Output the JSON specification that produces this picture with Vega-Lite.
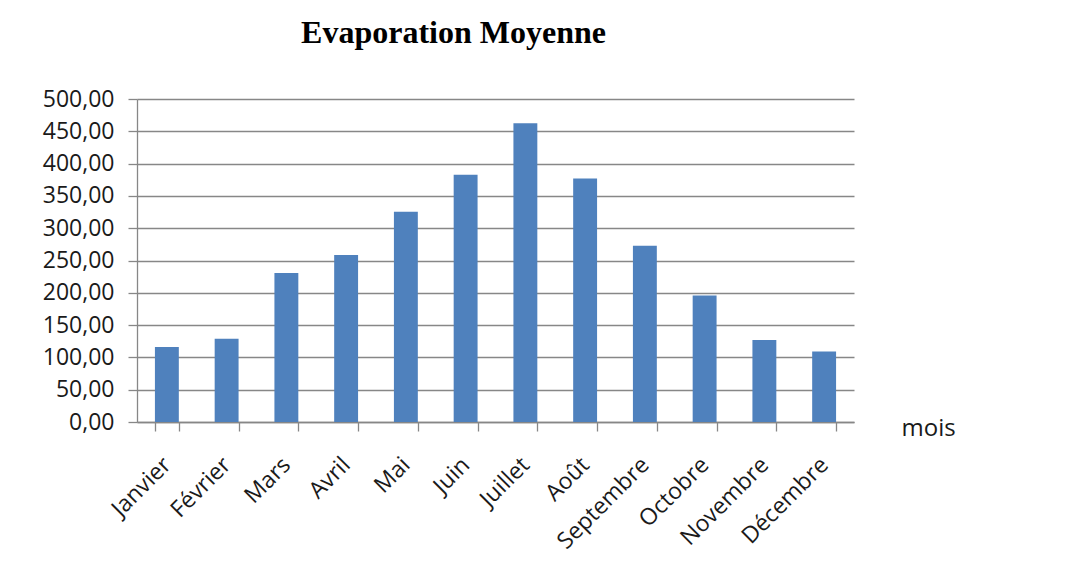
{
  "$schema": "https://vega.github.io/schema/vega-lite/v6.json",
  "autosize": {"type": "none"},
  "width": 717,
  "height": 323,
  "padding": {"left": 137, "top": 99, "right": 228, "bottom": 160},
  "background": "white",
  "title": {
    "text": "Evaporation Moyenne",
    "font": "Liberation Serif",
    "fontSize": 32,
    "fontWeight": "bold",
    "color": "black",
    "anchor": "middle",
    "frame": "group",
    "dx": -42,
    "baseline": "alphabetic",
    "offset": 13
  },
  "data": {
    "values": [
      {"mois": "Janvier", "evaporation": 116.1},
      {"mois": "Février", "evaporation": 128.9},
      {"mois": "Mars", "evaporation": 230.6},
      {"mois": "Avril", "evaporation": 258.5},
      {"mois": "Mai", "evaporation": 325.5},
      {"mois": "Juin", "evaporation": 382.8},
      {"mois": "Juillet", "evaporation": 462.3},
      {"mois": "Août", "evaporation": 377.1},
      {"mois": "Septembre", "evaporation": 272.9},
      {"mois": "Octobre", "evaporation": 196.0},
      {"mois": "Novembre", "evaporation": 126.9},
      {"mois": "Décembre", "evaporation": 109.3}
    ]
  },
  "mark": {"type": "bar", "color": "#4F81BD"},
  "encoding": {
    "x": {
      "field": "mois",
      "type": "nominal",
      "sort": null,
      "scale": {"paddingInner": 0.6, "paddingOuter": 0.3},
      "axis": {
        "title": "mois",
        "titleFont": "Open Sans",
        "titleFontSize": 24,
        "titleFontWeight": "normal",
        "titleColor": "#1a1a1a",
        "titleAlign": "left",
        "titleBaseline": "alphabetic",
        "titleAnchor": null,
        "titleX": 764,
        "titleY": 13,
        "domainColor": "#878787",
        "domainWidth": 1.3,
        "tickColor": "#878787",
        "tickWidth": 1.3,
        "tickSize": 9,
        "tickBand": "extent",
        "labelAngle": -45,
        "labelAlign": "right",
        "labelBaseline": "middle",
        "labelPadding": 30,
        "labelFont": "Open Sans",
        "labelFontSize": 23,
        "labelColor": "#1a1a1a"
      }
    },
    "y": {
      "field": "evaporation",
      "type": "quantitative",
      "scale": {"domain": [0, 500], "nice": false},
      "axis": {
        "title": null,
        "values": [0, 50, 100, 150, 200, 250, 300, 350, 400, 450, 500],
        "labelExpr": "replace(format(datum.value, '.2f'), '.', ',')",
        "labelFont": "Open Sans",
        "labelFontSize": 23,
        "labelColor": "#1a1a1a",
        "labelPadding": 14,
        "grid": true,
        "gridColor": "#878787",
        "gridWidth": 1.3,
        "domainColor": "#878787",
        "domainWidth": 1.3,
        "tickColor": "#878787",
        "tickWidth": 1.3,
        "tickSize": 9
      }
    }
  },
  "config": {"view": {"stroke": null}}
}
